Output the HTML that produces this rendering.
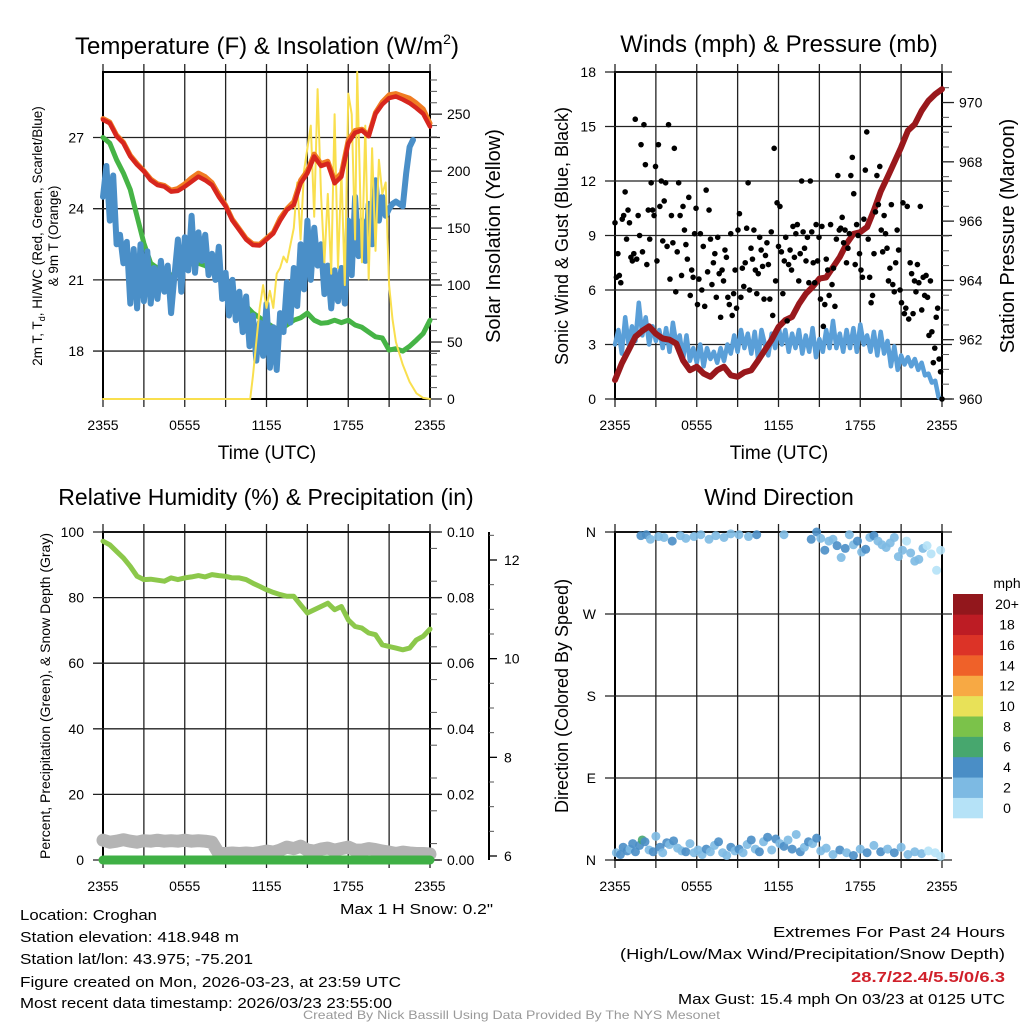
<!DOCTYPE html>
<html><head><meta charset="utf-8"><style>
body{margin:0;background:#fff}
svg{display:block}
text{font-family:"Liberation Sans",sans-serif;fill:#000}
.nar{font-family:"Liberation Sans Narrow","Liberation Sans",sans-serif}
</style></head><body>
<svg id="fig" width="1024" height="1024" viewBox="0 0 1024 1024" xmlns="http://www.w3.org/2000/svg">
<g id="layer"></g>
<text x="267" y="54" font-size="24" text-anchor="middle">Temperature (F) &amp; Insolation (W/m<tspan font-size="14" dy="-10">2</tspan><tspan dy="10">)</tspan></text>
<text x="779" y="52" font-size="24" text-anchor="middle">Winds (mph) &amp; Pressure (mb)</text>
<text x="266" y="505" font-size="23" text-anchor="middle">Relative Humidity (%) &amp; Precipitation (in)</text>
<text x="779" y="505" font-size="23" text-anchor="middle">Wind Direction</text>

<text x="267" y="459" font-size="19" text-anchor="middle">Time (UTC)</text>
<text x="779" y="459" font-size="19" text-anchor="middle">Time (UTC)</text>

<text transform="translate(42,236) rotate(-90)" font-size="13.5" text-anchor="middle">2m T, T<tspan font-size="9" dy="3">d</tspan><tspan dy="-3">, HI/WC (Red, Green, Scarlet/Blue)</tspan></text>
<text transform="translate(58,236) rotate(-90)" font-size="13.5" text-anchor="middle">&amp; 9m T (Orange)</text>
<text transform="translate(500,236) rotate(-90)" font-size="20" text-anchor="middle">Solar Insolation (Yellow)</text>
<text transform="translate(568,236) rotate(-90)" font-size="18" text-anchor="middle">Sonic Wind &amp; Gust (Blue, Black)</text>
<text transform="translate(1014,236) rotate(-90)" font-size="20" text-anchor="middle">Station Pressure (Maroon)</text>
<text transform="translate(50,696) rotate(-90)" font-size="14" text-anchor="middle">Percent, Precipitation (Green), &amp; Snow Depth (Gray)</text>
<text transform="translate(568,696) rotate(-90)" font-size="18" text-anchor="middle">Direction (Colored By Speed)</text>

<text x="340" y="914" font-size="15" textLength="153" lengthAdjust="spacingAndGlyphs" fill="#333">Max 1 H Snow: 0.2"</text>
<text x="20" y="920" font-size="15" textLength="137" lengthAdjust="spacingAndGlyphs">Location: Croghan</text>
<text x="20" y="942" font-size="15" textLength="219" lengthAdjust="spacingAndGlyphs">Station elevation: 418.948 m</text>
<text x="20" y="964" font-size="15" textLength="233" lengthAdjust="spacingAndGlyphs">Station lat/lon: 43.975; -75.201</text>
<text x="20" y="987" font-size="15" textLength="381" lengthAdjust="spacingAndGlyphs">Figure created on Mon, 2026-03-23, at 23:59 UTC</text>
<text x="20" y="1008" font-size="15" textLength="372" lengthAdjust="spacingAndGlyphs">Most recent data timestamp: 2026/03/23 23:55:00</text>
<text x="1005" y="937" font-size="15" text-anchor="end" textLength="232" lengthAdjust="spacingAndGlyphs">Extremes For Past 24 Hours</text>
<text x="1005" y="959" font-size="15" text-anchor="end" textLength="385" lengthAdjust="spacingAndGlyphs">(High/Low/Max Wind/Precipitation/Snow Depth)</text>
<text x="1005" y="982" font-size="15" font-weight="bold" text-anchor="end" style="fill:#d0202a" textLength="154" lengthAdjust="spacingAndGlyphs">28.7/22.4/5.5/0/6.3</text>
<text x="1005" y="1004" font-size="15" text-anchor="end" textLength="327" lengthAdjust="spacingAndGlyphs">Max Gust: 15.4 mph On 03/23 at 0125 UTC</text>
<text x="303" y="1019" font-size="12" style="fill:#999" textLength="417" lengthAdjust="spacingAndGlyphs">Created By Nick Bassill Using Data Provided By The NYS Mesonet</text>
</svg>
<script>
// ---------- data (hours since 2355 UTC) ----------
const halfHours = [0,0.5,1,1.5,2,2.5,3,3.5,4,4.5,5,5.5,6,6.5,7,7.5,8,8.5,9,9.5,10,10.5,11,11.5,12,12.5,13,13.5,14,14.5,15,15.5,16,16.5,17,17.5,18,18.5,19,19.5,20,20.5,21,21.5,22,22.5,23,23.5,24];
const tempRed = [27.75,27.6,27.05,26.76,26.2,25.85,25.57,25.2,25.0,24.93,24.72,24.75,24.93,25.14,25.35,25.2,25.0,24.5,24.1,23.5,23.1,22.7,22.47,22.45,22.7,22.96,23.5,23.95,24.16,25.07,25.5,26.2,25.8,25.9,25.07,25.35,26.76,27.2,27.3,27.05,28.0,28.4,28.66,28.73,28.6,28.45,28.24,28.0,27.46];
const temp9m = [27.8,27.65,27.1,26.8,26.25,25.9,25.6,25.25,25.05,24.98,24.78,24.85,25.05,25.3,25.5,25.35,25.1,24.6,24.15,23.55,23.15,22.75,22.52,22.5,22.75,23.0,23.6,24.0,24.3,25.2,25.6,26.3,25.9,26.0,25.2,25.5,26.9,27.3,27.35,27.1,28.05,28.5,28.8,28.85,28.75,28.65,28.45,28.2,27.6];
const dewGreen = [27.0,26.76,26.06,25.5,24.8,23.67,22.54,21.7,21.49,21.3,21.2,21.3,21.5,21.7,21.7,21.6,21.4,21.1,20.8,20.5,20.2,19.9,19.6,19.4,19.2,19.0,18.9,19.1,19.3,19.4,19.6,19.3,19.17,19.2,19.3,19.2,19.3,19.1,19.0,18.8,18.6,18.55,18.04,18.1,18.0,18.2,18.46,18.74,19.3];
const rhValues = [97.2,96.1,94.1,92.1,89.5,86.5,85.5,85.6,85.3,85.0,86.0,85.5,86.0,86.3,86.7,86.3,87.0,86.7,86.5,86.0,86.0,85.5,84.4,83.4,82.4,81.6,80.9,80.4,80.4,77.8,75.3,76.3,77.3,78.3,76.3,77.3,73.2,71.2,70.7,69.2,68.7,65.6,65.1,64.6,64.1,64.6,67.1,68.2,70.4];
const pressure = [960.64,961.2,961.65,962.1,962.3,962.45,962.2,962.04,962.0,961.87,961.3,960.97,961.09,960.86,960.75,960.97,961.09,960.8,960.75,960.9,960.97,961.3,961.65,962.0,962.43,962.66,962.77,963.2,963.55,963.78,964.06,964.1,964.45,964.79,965.24,965.57,965.63,965.8,966.36,967.0,967.48,967.98,968.49,969.05,969.27,969.72,970.06,970.28,970.45];
const snowDepth = [6.32,6.28,6.3,6.33,6.3,6.28,6.31,6.3,6.32,6.3,6.31,6.3,6.32,6.3,6.31,6.3,6.28,6.05,6.05,6.06,6.05,6.06,6.05,6.07,6.1,6.08,6.12,6.18,6.15,6.2,6.12,6.1,6.14,6.16,6.12,6.15,6.18,6.12,6.12,6.15,6.13,6.1,6.08,6.05,6.08,6.06,6.05,6.05,6.04];
const precip = [0,0,0,0,0,0,0,0,0,0,0,0,0,0,0,0,0,0,0,0,0,0,0,0,0,0,0,0,0,0,0,0,0,0,0,0,0,0,0,0,0,0,0,0,0,0,0,0,0];
const solarHours = [0,10.8,11,11.25,11.5,11.75,12,12.25,12.5,12.75,13,13.25,13.5,14,14.25,14.5,14.75,15,15.25,15.5,15.75,16,16.25,16.5,16.75,17,17.25,17.5,17.75,18,18.25,18.5,18.66,19,19.25,19.5,19.75,20,20.25,20.5,20.75,21,21.25,21.5,21.75,22,22.5,23,23.5,24];
const solar = [0,0,20,50,80,100,80,95,80,110,115,125,120,150,190,140,200,220,240,160,272,180,120,180,110,250,115,200,100,268,250,140,287,120,240,105,220,130,210,180,190,100,70,50,40,30,15,5,1,0];
const hiBlue = [24.5,25.8,23.5,25.4,22.5,22.9,21.7,22.6,20.0,22.3,19.8,22.5,20.1,22.2,20.0,21.5,20.2,21.8,20.5,21.6,19.6,21.2,22.7,20.5,22.8,21.4,23.7,21.3,23.0,21.8,22.9,21.2,22.1,21.0,22.4,20.2,21.3,19.5,21.0,19.3,20.5,18.8,20.3,18.2,19.5,17.6,19.2,17.8,20.0,17.3,19.0,17.2,19.6,18.8,20.9,19.2,21.5,19.9,22.5,20.6,23.5,21.0,23.2,21.6,22.5,20.4,21.6,19.8,21.4,20.1,21.5,20.0,23.5,21.2,24.5,22.0,23.5,21.8,24.2,22.5,25.2,23.5,24.5,23.7,24.0,24.2,24.3,24.2,24.1,25.5,26.6,26.9];
const windBlue = [3,3.8,2.5,4.5,3.0,4.0,3.2,5.3,3.5,4.5,3.0,4.0,3.2,3.8,2.8,3.9,2.6,4.2,3.0,3.5,2.2,3.5,2.1,2.8,2.0,3.0,1.8,2.8,2.2,2.6,2.0,2.8,2.1,3.0,2.5,3.5,2.6,3.8,2.8,3.6,2.5,3.7,2.2,3.8,3.0,2.4,3.6,2.8,4.0,3.0,3.8,2.6,3.6,2.8,3.8,2.5,3.5,2.6,3.9,2.3,3.3,2.6,3.8,2.8,4.3,2.8,3.6,2.6,3.8,2.8,3.9,2.6,4.1,3.0,3.5,2.6,3.7,2.4,3.7,2.5,3.2,1.8,2.9,1.6,2.4,1.9,2.3,1.8,2.2,1.6,2.0,1.3,1.4,0.9,1.0,0.1,0];
const gusts = [9.7,6.7,8.0,6.8,6.4,9.9,10.1,11.4,8.8,10.4,9.7,7.8,7.6,8.0,15.4,7.7,10.1,9.0,14.0,8.1,15.1,12.9,7.4,10.4,8.8,11.9,10.4,10.1,12.8,7.6,14.0,10.6,12.0,8.7,10.9,11.9,8.4,15.1,6.6,10.1,8.6,13.8,5.9,8.1,11.9,10.1,6.8,10.6,9.3,8.5,7.7,11.1,5.7,7.1,6.7,9.1,10.5,5.2,6.6,9.1,6.0,8.4,5.1,11.5,7.0,10.4,8.8,6.3,7.5,8.0,5.6,8.9,6.9,4.5,7.1,6.5,8.2,7.8,5.6,5.2,9.1,4.6,5.8,7.1,5.0,9.3,10.2,5.6,7.2,6.2,7.5,9.4,11.9,6.0,8.3,7.7,9.3,7.1,5.8,6.9,8.9,8.2,7.3,5.5,7.9,8.6,7.4,5.5,9.2,4.6,13.8,6.5,10.8,8.4,10.6,8.1,5.8,7.6,8.9,4.3,7.4,8.2,7.1,9.5,7.8,9.1,9.6,6.5,8.0,12.0,9.2,8.3,7.6,8.9,6.4,12.0,9.2,7.5,6.4,9.6,7.6,8.9,5.5,9.5,4.0,5.2,7.7,7.1,5.7,9.6,6.3,7.2,5.1,8.8,12.3,9.3,9.4,10.0,8.6,9.3,7.5,8.3,9.1,12.3,13.3,11.3,7.4,9.6,9.0,8.0,7.1,6.7,9.9,12.6,14.7,8.8,6.7,5.3,5.7,8.0,10.3,12.3,10.7,12.8,9.3,8.1,10.1,9.1,8.3,6.5,7.2,10.7,6.3,5.9,7.5,9.3,8.2,6.0,5.3,10.8,4.7,5.0,10.6,4.4,7.5,6.9,4.7,6.5,5.9,7.4,6.4,10.6,4.9,6.7,5.7,6.8,5.6,3.5,6.5,3.7,2.0,2.8,4.5,5.0,2.2,1.5,0];
const dirTimes = [1.9,2.3,2.6,3.2,3.6,4.2,4.8,5.2,5.8,6.3,6.9,7.4,8.0,8.5,9.1,9.8,10.4,12.4,14.4,14.8,15.1,15.4,15.7,16.0,16.3,16.6,16.9,17.2,17.5,17.8,18.1,18.4,18.7,19.0,19.3,19.6,19.9,20.2,20.5,20.8,21.1,21.4,21.7,22.0,22.3,22.6,22.9,23.2,23.6,23.9,
 0.1,0.4,0.6,0.9,1.1,1.3,1.5,1.8,2.0,2.2,2.5,2.8,3.0,3.3,3.5,3.8,4.0,4.3,4.6,4.9,5.2,5.5,5.8,6.1,6.4,6.7,7.0,7.3,7.6,7.9,8.2,8.5,8.8,9.1,9.4,9.7,10.0,10.3,10.6,10.9,11.2,11.5,11.8,12.1,12.4,12.7,13.0,13.3,13.6,13.9,14.2,14.5,14.8,15.1,15.5,16.0,16.5,17.0,17.5,18.0,18.5,19.0,19.5,20.0,20.5,21.0,21.5,22.0,22.5,23.0,23.5,23.9];
const dirDegrees = [356,357,352,355,354,350,356,353,355,357,352,356,354,358,357,355,357,357,352,360,353,340,350,352,345,332,342,357,346,350,338,341,354,356,350,346,343,348,354,333,340,350,337,328,330,342,345,336,318,340,
 8,6,14,10,12,18,9,16,22,20,11,9,26,14,8,19,17,21,13,10,9,18,8,11,6,12,9,16,20,8,5,14,10,12,8,17,22,12,9,20,25,11,23,18,15,22,12,28,9,14,20,18,24,10,13,6,11,8,5,12,8,16,9,12,8,14,6,9,7,10,8,4];
const dirSpeeds = [4.2,4.5,3.0,3.3,2.8,4.1,3.0,2.6,3.1,2.7,3.0,2.5,3.2,2.4,3.1,2.8,4.2,2.9,4.3,4.1,3.5,4.4,3.1,2.9,4.5,3.0,4.6,3.1,2.6,4.4,3.2,4.3,2.9,4.4,3.3,2.9,3.0,3.1,2.4,2.8,3.0,1.8,2.7,3.1,2.9,2.5,1.5,1.2,1.3,1.6,
 3.0,4.3,4.5,4.1,3.0,4.4,4.6,4.2,6.5,4.1,3.0,4.5,3.1,4.2,3.3,4.4,3.0,4.2,2.8,3.0,4.5,3.1,2.7,3.0,2.9,4.3,2.6,3.2,4.1,3.0,2.9,4.2,2.8,4.4,3.0,2.8,4.1,3.2,4.4,3.0,4.5,2.9,4.3,3.1,4.4,3.0,4.6,3.2,4.1,3.0,4.2,3.5,4.4,2.9,3.1,2.8,4.3,3.0,4.4,2.8,4.2,3.1,4.3,2.9,4.1,2.7,3.0,2.6,2.2,1.8,1.5,1.2];
const speedLabels = ["0","2","4","6","8","10","12","14","16","18","20+"];
const speedColors = ["#b5e2f7","#7dbae3","#4a8ec6","#47a76e","#7bc24a","#e8e158","#f7a944","#ef6129","#dc3327","#bd1c24","#92171c"];

// ---------- rendering ----------
const NS="http://www.w3.org/2000/svg";
const layer=document.getElementById('layer');
function mk(tag,attrs,parent){const e=document.createElementNS(NS,tag);for(const k in attrs)e.setAttribute(k,attrs[k]);(parent||layer).appendChild(e);return e;}
function linScale(d0,d1,r0,r1){return v=>r0+(v-d0)/(d1-d0)*(r1-r0);}
const xTickLabels=["2355","0555","1155","1755","2355"];

function panel(x0,x1,y0,y1,name){
  const g=mk('g',{});
  
  
  const xs=linScale(0,24,x0,x1);
  for(let h=0;h<=24;h+=3){
    const l=mk('line',{x1:xs(h),x2:xs(h),y1:y0-8,y2:y1+8,stroke:'#222','stroke-width':1.3},g);
    
    
  }
  xTickLabels.forEach((t,i)=>{
    const tx=mk('text',{x:xs(i*6),y:y1+31,'font-size':14,'text-anchor':'middle'},g);tx.textContent=t;
    
    
  });
  mk('rect',{x:x0,y:y0,width:x1-x0,height:y1-y0,fill:'none',stroke:'#000','stroke-width':2},g);
  return {g,xs};
}
function yAxis(g,ys,ticks,labels,x0,x1,side,minor){
  ticks.forEach((v,i)=>{
    const y=ys(v);
    if(side==='left'){
      const l=mk('line',{x1:x0-10,x2:x1+(minor?10:0),y1:y,y2:y,stroke:'#222','stroke-width':1.3},g);
      
      
      const t=mk('text',{x:x0-19,y:y+5,'font-size':14,'text-anchor':'end'},g);t.textContent=labels[i];
      
      
    } else {
      mk('line',{x1:x1,x2:x1+12,y1:y,y2:y,stroke:'#222','stroke-width':1.3},g);
      const t=mk('text',{x:x1+17,y:y+5,'font-size':14},g);t.textContent=labels[i];
      
      
    }
  });
}
function pathD(xsArr,ysArr,xs,ys){let d='';xsArr.forEach((h,i)=>{const v=ysArr[i];if(v==null)return;d+=(d?'L':'M')+xs(h).toFixed(1)+','+ys(v).toFixed(1);});return d;}
function seriesPath(g,name,d,color,w){const p=mk('path',{d:d,fill:'none',stroke:color,'stroke-width':w,'stroke-linejoin':'round','stroke-linecap':'round'},g);return p;}
function quarterHours(n){const a=[];for(let i=0;i<n;i++)a.push(i*0.25);return a;}

// Panel 1: temperature
(function(){
  const P=panel(103,430,72,399,'temperature-panel');const g=P.g,xs=P.xs;
  const yT=linScale(15.98,29.76,399,72), yS=linScale(0,287,399,72);
  yAxis(g,yT,[18,21,24,27],['18','21','24','27'],103,430,'left',true);
  yAxis(g,yS,[0,50,100,150,200,250],['0','50','100','150','200','250'],103,430,'right');
  for(let v=10;v<=280;v+=10){if(v%50)mk('line',{x1:430,x2:437,y1:yS(v),y2:yS(v),stroke:'#555','stroke-width':1},g);}
  seriesPath(g,'dewpoint-line',pathD(halfHours,dewGreen,xs,yT),'#46b446',5);
  seriesPath(g,'windchill-line',pathD(quarterHours(hiBlue.length),hiBlue,xs,yT),'#4a8fc8',6);
  seriesPath(g,'insolation-line',pathD(solarHours,solar,xs,yS),'#f9df4e',2);
  seriesPath(g,'temp-9m-line',pathD(halfHours,temp9m,xs,yT),'#f07c22',5);
  seriesPath(g,'temp-2m-line',pathD(halfHours,tempRed,xs,yT),'#d7261e',4.5);
})();

// Panel 2: winds & pressure
(function(){
  const P=panel(615,942,72,399,'winds-panel');const g=P.g,xs=P.xs;
  const yW=linScale(0,18,399,72), yP=linScale(960,971.03,399,72);
  yAxis(g,yW,[0,3,6,9,12,15,18],['0','3','6','9','12','15','18'],615,942,'left',true);
  yAxis(g,yP,[960,962,964,966,968,970],['960','962','964','966','968','970'],615,942,'right');
  for(let v=960.5;v<971;v+=0.5){if(v%2)mk('line',{x1:942,x2:949,y1:yP(v),y2:yP(v),stroke:'#555','stroke-width':1},g);}
  seriesPath(g,'wind-speed-line',pathD(quarterHours(windBlue.length),windBlue,xs,yW),'#5a9fd8',4.5);
  seriesPath(g,'pressure-line',pathD(halfHours,pressure,xs,yP),'#99181c',6);
  gusts.forEach((v,i)=>{const h=i*24/(gusts.length-1);const c=mk('circle',{cx:xs(h),cy:yW(v),r:2.8,fill:'#000'},g);
    
    });
})();

// Panel 3: RH & precipitation
(function(){
  const P=panel(103,430,532,860,'humidity-panel');const g=P.g,xs=P.xs;
  const yR=linScale(0,100,860,532), yPr=linScale(0,0.1,860,532), yD=linScale(6,12,856,560);
  yAxis(g,yR,[0,20,40,60,80,100],['0','20','40','60','80','100'],103,430,'left',true);
  yAxis(g,yPr,[0,0.02,0.04,0.06,0.08,0.1],['0.00','0.02','0.04','0.06','0.08','0.10'],103,430,'right');
  for(let v=0.005;v<0.1;v+=0.01)mk('line',{x1:430,x2:437,y1:yPr(v),y2:yPr(v),stroke:'#555','stroke-width':1},g);
  const ax=mk('line',{x1:489,x2:489,y1:532,y2:860,stroke:'#000','stroke-width':2},g);
  
  
  [6,8,10,12].forEach(v=>{mk('line',{x1:489,x2:497,y1:yD(v),y2:yD(v),stroke:'#000','stroke-width':1.3},g);
    const t=mk('text',{x:504,y:yD(v)+5,'font-size':14},g);t.textContent=String(v);
    
    });
  for(let v=6.5;v<12.6;v+=0.5){if(v%2)mk('line',{x1:489,x2:494,y1:yD(v),y2:yD(v),stroke:'#555','stroke-width':1},g);}
  seriesPath(g,'snow-depth-line',pathD(halfHours,snowDepth,xs,yD),'#b4b4b4',13);
  seriesPath(g,'precip-line',pathD(halfHours,precip,xs,yPr),'#3fb045',9);
  seriesPath(g,'rh-line',pathD(halfHours,rhValues,xs,yR),'#8cc84b',5);
})();

// Panel 4: wind direction
(function(){
  const P=panel(615,942,532,860,'direction-panel');const g=P.g,xs=P.xs;
  const yDir=linScale(0,360,860,532);
  yAxis(g,yDir,[0,90,180,270,360],['N','E','S','W','N'],615,942,'left',true);
  dirTimes.forEach((h,i)=>{const bin=Math.min(10,Math.floor(dirSpeeds[i]/2));
    const c=mk('circle',{cx:xs(h),cy:yDir(dirDegrees[i]),r:4.5,fill:speedColors[bin],opacity:0.9},g);
    
    });
  const lg=mk('g',{});
  
  
  const bh=(818-594)/speedColors.length;
  speedColors.forEach((c,i)=>{const y=818-(i+1)*bh;
    mk('rect',{x:953,y:y,width:30,height:bh+0.3,fill:c},lg);
    const t=mk('text',{x:1007,y:y+bh/2+5,'font-size':14,'text-anchor':'middle'},lg);t.textContent=speedLabels[i];
    
    });
  const u=mk('text',{x:1007,y:588,'font-size':14,'text-anchor':'middle'},lg);u.textContent='mph';
  
  
})();
</script>
</body></html>
